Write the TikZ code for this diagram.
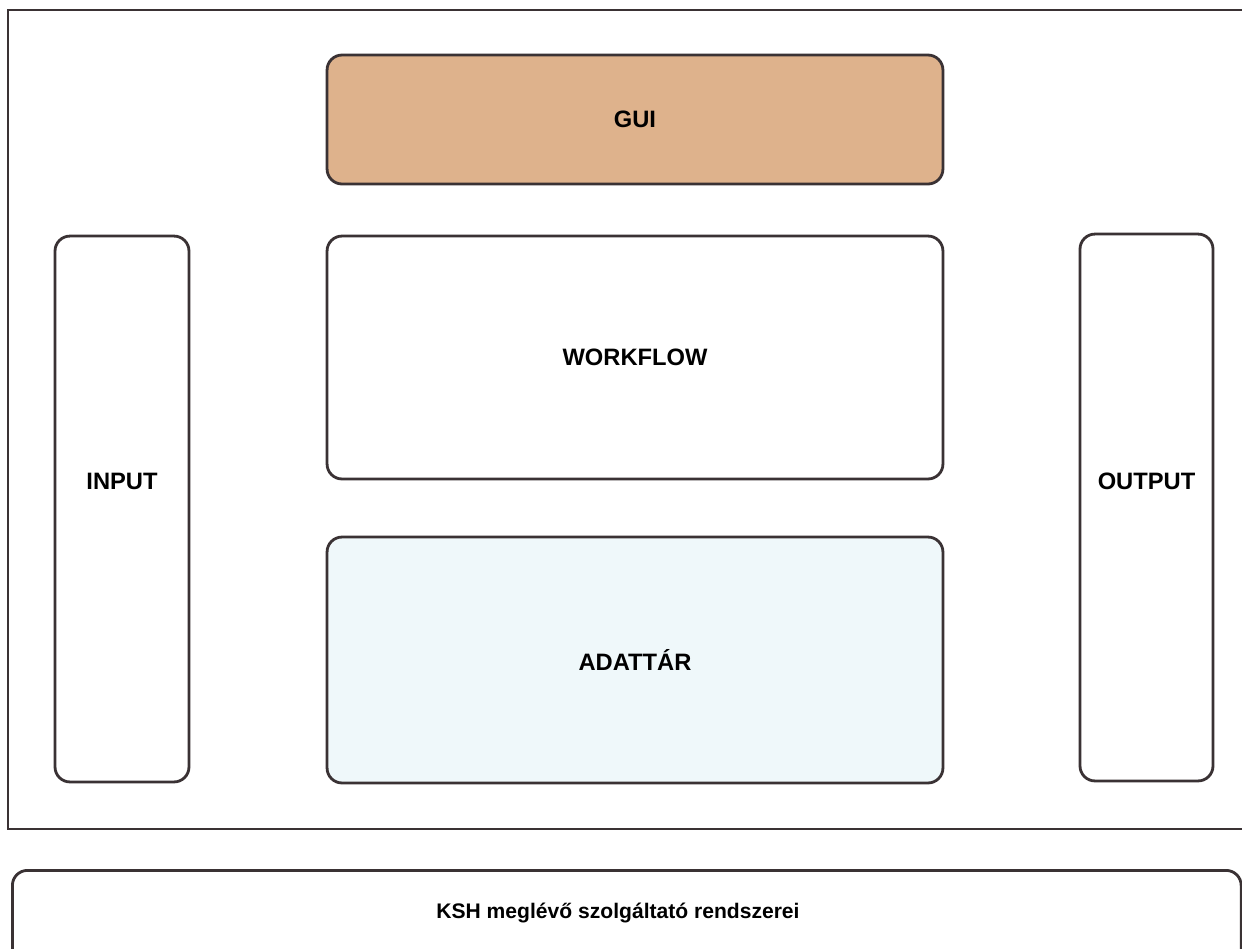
\documentclass[tikz,border=0pt]{standalone}
\usepackage{fontspec}
\setmainfont{Liberation Sans}
\usepackage{tikz}
\definecolor{guitan}{RGB}{222,178,140}
\definecolor{storecyan}{RGB}{239,248,250}
\definecolor{edge}{RGB}{58,50,52}
\tikzset{
  blk/.style={rounded corners=0.3cm, draw=edge, line width=1.6pt, inner sep=0pt},
  lbl/.style={font=\fontsize{13.5}{16}\selectfont\bfseries, text=black}
}

\begin{document}
\begin{tikzpicture}[x=0.02cm, y=-0.02cm]
\useasboundingbox (0,0) rectangle (1242,948);
\fill[white] (0,0) rectangle (1242,948);
\clip (0,0) rectangle (1242,948);
\draw [edge, line width=1.4pt] (8,10) rectangle (1270,829);
\node [blk, fill=guitan, minimum width=12.32cm, minimum height=2.58cm, lbl] (gui) at (635,119.5) {GUI};
\node [blk, fill=white, minimum width=12.32cm, minimum height=4.86cm, lbl] (workflow) at (635,357.5) {WORKFLOW};
\node [blk, fill=storecyan, minimum width=12.32cm, minimum height=4.92cm, lbl] (adattar) at (635,660) {ADATTÁR};
\node [blk, fill=white, minimum width=2.68cm, minimum height=10.92cm] (input) at (122,509) {};
\node [lbl, yshift=0.56cm] at (input.center) {INPUT};
\node [blk, fill=white, minimum width=2.66cm, minimum height=10.94cm] (output) at (1146.5,507.5) {};
\node [lbl, yshift=0.53cm] at (output.center) {OUTPUT};
\node [blk, fill=white, minimum width=24.58cm, minimum height=2.0cm, anchor=north west] (ksh) at (11,869) {};
\node [font=\fontsize{12}{14}\selectfont\bfseries] at (618,913) {KSH meglévő szolgáltató rendszerei};
\end{tikzpicture}
\end{document}
